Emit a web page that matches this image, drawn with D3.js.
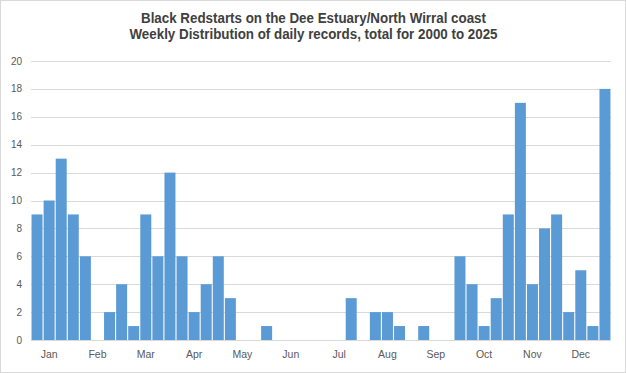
<!DOCTYPE html>
<html><head><meta charset="utf-8">
<script src="https://cdn.jsdelivr.net/npm/d3@7"></script>
<style>body{margin:0;background:#fff}svg{display:block}</style>
</head><body>
<script>
const months = ["Jan","Feb","Mar","Apr","May","Jun","Jul","Aug","Sep","Oct","Nov","Dec"];
const weeks = d3.range(48);
const counts = [9,10,13,9, 6,0,2,4, 1,9,6,12, 6,2,4,6, 3,0,0,1, 0,0,0,0,
                0,0,3,0, 2,2,1,0, 1,0,0,6, 4,1,3,9, 17,4,8,9, 2,5,1,18];
const yTicks = [0,2,4,6,8,10,12,14,16,18,20];
const titleLines = ["Black Redstarts on the Dee Estuary/North Wirral coast",
                    "Weekly Distribution of daily records, total for 2000 to 2025"];
const titleWidths = [345, 368];

const W = 626, H = 373;
const m = {l:31, r:15, t:61, b:33};
const svg = d3.select("body").append("svg").attr("width", W).attr("height", H);
svg.append("rect").attr("x",0.5).attr("y",0.5).attr("width",W-1).attr("height",H-1)
  .attr("fill","#fff").attr("stroke","#d9d9d9");

const x = d3.scaleBand().domain(weeks).range([m.l, W-m.r]).paddingInner(0.09).paddingOuter(0.045);
const y = d3.scaleLinear().domain([0,20]).range([H-m.b, m.t]);

// gridlines
svg.append("g").selectAll("line").data(yTicks).join("line")
  .attr("x1", m.l).attr("x2", W-m.r)
  .attr("y1", d=>Math.round(y(d))+0.5).attr("y2", d=>Math.round(y(d))+0.5)
  .attr("stroke","#d9d9d9").attr("stroke-width",1);

// y labels
svg.append("g").selectAll("text").data(yTicks).join("text")
  .attr("x", 22).attr("y", d=>y(d)+3.5).attr("text-anchor","end")
  .attr("font-family","Liberation Sans, Arial, sans-serif").attr("font-size",10)
  .attr("fill","#595959").text(d=>d);

// bars
svg.append("g").selectAll("rect").data(counts).join("rect")
  .attr("x",(d,i)=>x(i)).attr("width",x.bandwidth())
  .attr("y",d=>y(d)).attr("height",d=>y(0)-y(d))
  .attr("fill","#5b9bd5");

// x labels
svg.append("g").selectAll("text").data(months).join("text")
  .attr("x",(d,i)=>x(i*4+1)+x.bandwidth()/2).attr("y", H-m.b+18)
  .attr("text-anchor","middle")
  .attr("font-family","Liberation Sans, Arial, sans-serif").attr("font-size",10.5)
  .attr("fill","#595959").text(d=>d);

// title
svg.append("g").selectAll("text").data(titleLines).join("text")
  .attr("x", W/2+0.5).attr("y",(d,i)=>23+i*16).attr("text-anchor","middle")
  .attr("font-family","Liberation Sans, Arial, sans-serif")
  .attr("font-weight","bold").attr("font-size",14)
  .attr("textLength",(d,i)=>titleWidths[i]).attr("lengthAdjust","spacingAndGlyphs")
  .attr("fill","#404040").text(d=>d);
</script>
</body></html>
